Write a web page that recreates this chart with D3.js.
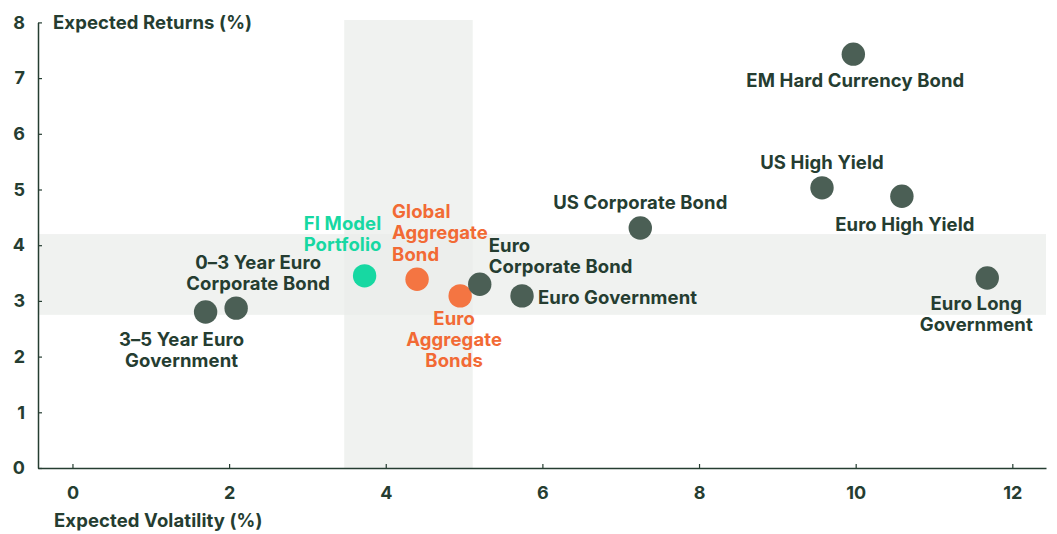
<!DOCTYPE html>
<html><head><meta charset="utf-8">
<script src="https://cdn.jsdelivr.net/npm/d3@7"></script>
<style>
html,body{margin:0;padding:0;background:#fff;}
text{font-family:Inter,"Open Sans",sans-serif;font-weight:700;}
</style></head>
<body>
<svg id="c" width="1057" height="534"></svg>
<script>
const names = ["3–5 Year Euro Government","0–3 Year Euro Corporate Bond","FI Model Portfolio","Global Aggregate Bond","Euro Aggregate Bonds","Euro Corporate Bond","Euro Government","US Corporate Bond","US High Yield","Euro High Yield","EM Hard Currency Bond","Euro Long Government"];
const volatility = [1.70, 2.09, 3.73, 4.40, 4.95, 5.20, 5.74, 7.25, 9.57, 10.59, 9.97, 11.68];
const returns = [2.80, 2.87, 3.45, 3.39, 3.09, 3.30, 3.09, 4.31, 5.03, 4.88, 7.43, 3.41];
const groups = ["asset","asset","portfolio","benchmark","benchmark","asset","asset","asset","asset","asset","asset","asset"];
const labelLines = [["3–5 Year Euro","Government"],["0–3 Year Euro","Corporate Bond"],["FI Model","Portfolio"],["Global","Aggregate","Bond"],["Euro","Aggregate","Bonds"],["Euro","Corporate Bond"],["Euro Government"],["US Corporate Bond"],["US High Yield"],["Euro High Yield"],["EM Hard Currency Bond"],["Euro Long","Government"]];
const xTicks = [0,2,4,6,8,10,12];
const yTicks = [0,1,2,3,4,5,6,7,8];
const volBand = [3.47, 5.11];
const retBand = [2.75, 4.2];

// label placement: [anchor, dx, dy of first baseline]
const labelPos = [
  ["middle",-24,34],["middle",22,-39],["middle",-22,-46],["start",-25,-61],["middle",-6,29],
  ["start",9,-32],["start",16,8],["middle",0,-19],["middle",0,-19],["middle",3,35],
  ["middle",2,33],["middle",-11,32]
];

const colors = {asset:"#4b5f55", portfolio:"#17d8a2", benchmark:"#f47542"};
const textColors = {asset:"#253d31", portfolio:"#17d8a2", benchmark:"#f26a35"};
const ink = "#253d31";
const fs = "18.5px", ls = "0.1px";

const svg = d3.select("#c");
const x = d3.scaleLinear().domain([-0.44, 12.43]).range([38, 1046]);
const y = d3.scaleLinear().domain([0, 8]).range([468, 22.4]);

// bands
svg.append("rect").attr("x", x(volBand[0])).attr("width", x(volBand[1]) - x(volBand[0]))
  .attr("y", 20).attr("height", y(0) - 20).attr("fill", "#e9ecea").attr("opacity", 0.7);
svg.append("rect").attr("x", x.range()[0]).attr("width", x.range()[1] - x.range()[0])
  .attr("y", y(retBand[1])).attr("height", y(retBand[0]) - y(retBand[1])).attr("fill", "#e9ecea").attr("opacity", 0.7);

// axes
const xAxis = svg.append("g").attr("transform", `translate(0,${y(0)})`)
  .call(d3.axisBottom(x).tickValues(xTicks).tickSize(-4).tickSizeOuter(0).tickPadding(18));
const yAxis = svg.append("g").attr("transform", `translate(${x.range()[0]},0)`)
  .call(d3.axisLeft(y).tickValues(yTicks).tickSize(-4).tickSizeOuter(0).tickPadding(13));
[xAxis, yAxis].forEach(g => {
  g.select(".domain").attr("stroke", ink).attr("stroke-width", 1.5);
  g.selectAll(".tick line").attr("stroke", ink).attr("stroke-width", 1.2);
  g.selectAll(".tick text").attr("fill", ink).style("font-size", "18px").style("font-family", "Inter").style("font-weight", 700);
});
xAxis.selectAll(".tick text").attr("dy", "0.71em");

svg.append("text").attr("x", 53).attr("y", 29).attr("fill", ink).style("font-size", fs).style("letter-spacing", ls).text("Expected Returns (%)");
svg.append("text").attr("x", 54).attr("y", 527).attr("fill", ink).style("font-size", fs).style("letter-spacing", ls).text("Expected Volatility (%)");

// points
const idx = d3.range(names.length);
svg.append("g").selectAll("circle").data(idx).join("circle")
  .attr("cx", i => x(volatility[i])).attr("cy", i => y(returns[i])).attr("r", 11.7)
  .attr("fill", i => colors[groups[i]]);

// labels
const lab = svg.append("g").selectAll("text").data(idx).join("text")
  .attr("text-anchor", i => labelPos[i][0])
  .attr("fill", i => textColors[groups[i]])
  .style("font-size", fs).style("letter-spacing", ls)
  .attr("x", i => x(volatility[i]) + labelPos[i][1])
  .attr("y", i => y(returns[i]) + labelPos[i][2]);
lab.each(function(i){
  const t = d3.select(this);
  labelLines[i].forEach((l, k) => {
    t.append("tspan").attr("x", x(volatility[i]) + labelPos[i][1]).attr("dy", k === 0 ? 0 : 21.3).text(l);
  });
});
</script>
</body></html>
